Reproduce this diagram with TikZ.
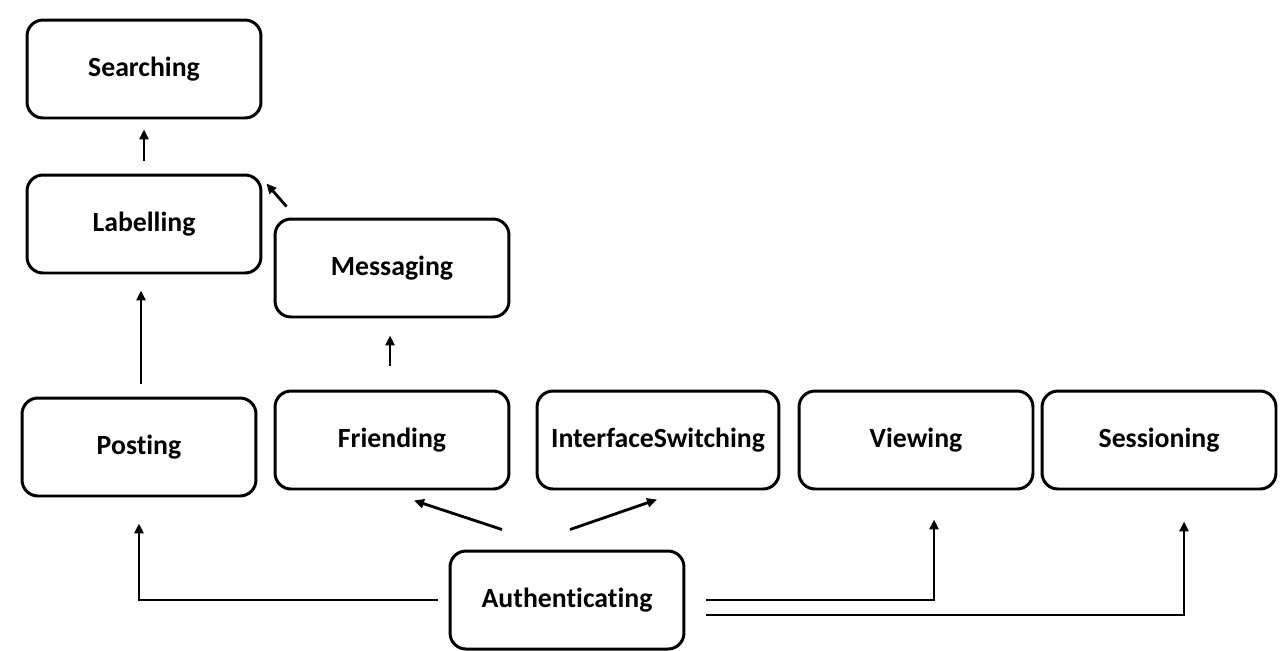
\documentclass[tikz,border=0pt]{standalone}
\usepackage{fontspec}
\setmainfont{Carlito}[Ligatures={NoCommon}]
\usetikzlibrary{arrows.meta,positioning}
\tikzset{
  box/.style={draw, line width=1.7pt, rounded corners=0.32cm, minimum width=4.68cm, minimum height=1.96cm, inner sep=0pt, font=\bfseries\fontsize{15.8}{18}\selectfont, fill=white},
  conn/.style={line width=1.6pt, -{Triangle[length=0.2cm,width=0.18cm]}},
}
\begin{document}
\begin{tikzpicture}[x=0.02cm, y=-0.02cm]
\useasboundingbox (0,0) rectangle (1280,650);
\node[box] (sea) at (144,69) {Searching};
\node[box] (lab) at (144,224) {Labelling};
\node[box] (mes) at (392,268) {Messaging};
\node[box] (pos) at (139,447) {Posting};
\node[box] (fri) at (392,440) {Friending};
\node[box, minimum width=4.84cm] (isw) at (658,440) {InterfaceSwitching};
\node[box] (vie) at (916,440) {Viewing};
\node[box] (ses) at (1159,440) {Sessioning};
\node[box] (aut) at (567,600) {Authenticating};

\draw[conn] ([shift={(0,-13)}]lab.north) -- ([shift={(0,10)}]sea.south);
\draw[conn] ([shift={(2,-13)}]pos.north) -- ([shift={(-3,16)}]lab.south);
\draw[conn] ([shift={(-2,-24)}]fri.north) -- ([shift={(-2,17)}]mes.south);
\draw[conn] ([shift={(13,-11)}]mes.north west) -- ([shift={(4,10)}]lab.north east);
\draw[conn] ([shift={(-65,-20)}]aut.north) -- ([shift={(22,10)}]fri.south);
\draw[conn] ([shift={(3,-20)}]aut.north) -- ([shift={(-1,9)}]isw.south);
\draw[conn] ([shift={(-11,0)}]aut.west) -| ([shift={(0,26)}]pos.south);
\draw[conn] ([shift={(21,0)}]aut.east) -| ([shift={(18,29)}]vie.south);
\draw[conn] ([shift={(21,15)}]aut.east) -| ([shift={(25,31)}]ses.south);
\end{tikzpicture}
\end{document}
